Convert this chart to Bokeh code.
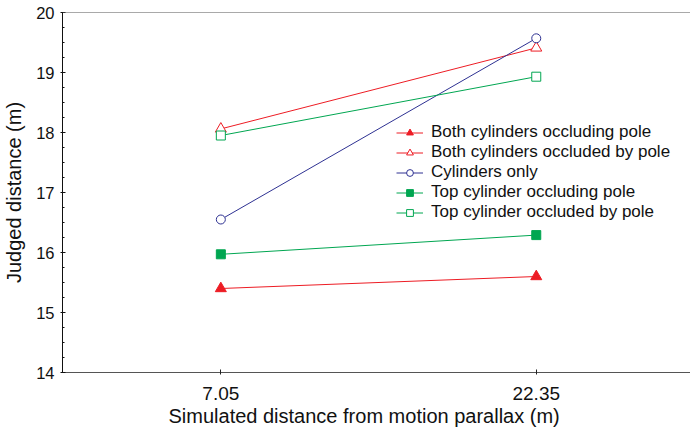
from bokeh.plotting import figure
from bokeh.models import FixedTicker, Span, Legend, LegendItem, Title
from bokeh.embed import file_html
from bokeh.resources import INLINE

categories = ["7.05", "22.35"]
both_occluding = [15.40, 15.60]
both_occluded = [18.06, 19.41]
cylinders_only = [16.55, 19.57]
top_occluding = [15.97, 16.29]
top_occluded = [17.95, 18.93]

y_ticks = [14, 15, 16, 17, 18, 19, 20]

RED = "#ed1c24"
BLUE = "#2e3192"
GREEN = "#00a651"
FONT = "Liberation Sans"

xs = [i + 1 for i in range(len(categories))]

p = figure(width=690, height=432, output_backend="svg", toolbar_location=None,
           x_range=(0.498, 2.489), y_range=(14, 20),
           min_border_left=55, min_border_right=0, min_border_top=12, min_border_bottom=60)
p.outline_line_color = None
p.xgrid.visible = False
p.ygrid.visible = False
p.background_fill_color = "white"
p.border_fill_color = "white"

p.add_layout(Span(location=20, dimension="width", line_color="#555555", line_width=1))

r1l = p.line(xs, both_occluding, line_color=RED, line_width=1)
r1m = p.scatter(xs, both_occluding, marker="triangle", size=11, line_color=RED, fill_color=RED)
r2l = p.line(xs, both_occluded, line_color=RED, line_width=1)
r2m = p.scatter(xs, both_occluded, marker="triangle", size=11, line_color=RED, fill_color="white")
r3l = p.line(xs, cylinders_only, line_color=BLUE, line_width=1)
r3m = p.scatter(xs, cylinders_only, marker="circle", size=9, line_color=BLUE, fill_color="white")
r4l = p.line(xs, top_occluding, line_color=GREEN, line_width=1)
r4m = p.scatter(xs, top_occluding, marker="square", size=9, line_color=GREEN, fill_color=GREEN)
r5l = p.line(xs, top_occluded, line_color=GREEN, line_width=1)
r5m = p.scatter(xs, top_occluded, marker="square", size=9, line_color=GREEN, fill_color="white")

legend = Legend(items=[
    LegendItem(label="Both cylinders occluding pole", renderers=[r1l, r1m]),
    LegendItem(label="Both cylinders occluded by pole", renderers=[r2l, r2m]),
    LegendItem(label="Cylinders only", renderers=[r3l, r3m]),
    LegendItem(label="Top cylinder occluding pole", renderers=[r4l, r4m]),
    LegendItem(label="Top cylinder occluded by pole", renderers=[r5l, r5m]),
], location=(334, 150))
legend.background_fill_alpha = 0
legend.border_line_color = None
legend.padding = 0
legend.margin = 0
legend.spacing = 0
legend.glyph_width = 27
legend.glyph_height = 17
legend.label_height = 17
legend.label_standoff = 8
legend.label_text_font = FONT
legend.label_text_font_size = "17px"
legend.label_text_color = "#111111"
p.add_layout(legend)

# x axis
xa = p.xaxis[0]
xa.ticker = FixedTicker(ticks=xs)
xa.major_label_overrides = {x: c for x, c in zip(xs, categories)}
xa.axis_line_color = "#555555"
xa.major_tick_line_color = "#222222"
xa.major_tick_in = 3
xa.major_tick_out = 2
xa.minor_tick_line_color = None
xa.major_label_standoff = 12
xa.major_label_text_font = FONT
xa.major_label_text_font_size = "19px"
xa.major_label_text_color = "#111111"

xtitle = Title(text="Simulated distance from motion parallax (m)", align="left", offset=106,
               standoff=0, text_font=FONT, text_font_size="20px",
               text_font_style="normal", text_color="#111111")
p.add_layout(xtitle, "below")

# y axis
ya = p.yaxis[0]
ya.ticker = FixedTicker(ticks=y_ticks,
                        minor_ticks=[14 + 0.25 * i for i in range(25)])
ya.axis_label = "Judged distance (m)"
ya.axis_line_color = "#111111"
ya.major_tick_line_color = "#111111"
ya.minor_tick_line_color = "#111111"
ya.major_tick_in = 3
ya.major_tick_out = 2
ya.minor_tick_in = 2
ya.minor_tick_out = 0
ya.major_label_standoff = 6
ya.axis_label_standoff = 8
ya.major_label_text_font = FONT
ya.major_label_text_font_size = "16.5px"
ya.major_label_text_color = "#111111"
ya.axis_label_text_font = FONT
ya.axis_label_text_font_size = "20px"
ya.axis_label_text_font_style = "normal"
ya.axis_label_text_color = "#111111"

open("out.html", "w").write(file_html(p, INLINE))
